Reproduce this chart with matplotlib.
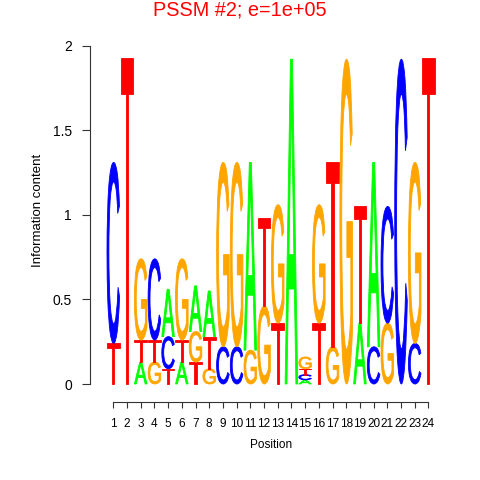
import numpy as np
import matplotlib
matplotlib.use("Agg")
import matplotlib.pyplot as plt
from matplotlib.patches import PathPatch
from matplotlib.textpath import TextPath
from matplotlib.font_manager import FontProperties
from matplotlib.path import Path
from matplotlib.transforms import Affine2D

plt.rcParams['font.family'] = ['Liberation Sans', 'DejaVu Sans']

positions = list(range(1, 25))
tick_labels = [str(p) for p in positions]
# information content per base at each position
A = [0, 0, .13, 0, .28, .13, .27, .27, 0, 0, 1.11, 0, 0, 1.92, .025, 0, 0, 0, .36, 1.09, 0, 0, 0, 0]
C = [1.07, 0, 0, .48, .19, 0, 0, 0, .22, .22, 0, 0, 0, 0, .03, 0, 0, 0, 0, .22, .69, 1.92, .24, 0]
G = [0, 0, .48, .13, 0, .48, .18, .09, 1.09, 1.09, .20, .46, .70, 0, .07, .70, .22, 1.92, 0, 0, .36, 0, 1.07, 0]
T = [.24, 1.93, .13, .13, .09, .13, .13, .19, 0, 0, 0, .52, .36, 0, .035, .36, 1.09, 0, .69, 0, 0, 0, 0, 1.93]
title = "PSSM #2; e=1e+05"

COLORS = {"A": "#00FF00", "C": "#0000FF", "G": "#FFA500", "T": "#FF0000"}
FP = FontProperties(family="Liberation Sans")

GLYPHS = {}
for b in "ACGT":
    tp = TextPath((0, 0), b, size=1, prop=FP)
    ext = tp.get_extents()
    norm = Affine2D().translate(-ext.x0, -ext.y0).scale(1 / ext.width, 1 / ext.height)
    GLYPHS[b] = norm.transform_path(tp)

fig = plt.figure(figsize=(4.8, 4.8), dpi=100)
W = H = 480.0
ax_l, ax_r, ax_t, ax_b = 90, 440, 45.7, 384
ax = fig.add_axes([ax_l / W, 1 - ax_b / H, (ax_r - ax_l) / W, (ax_b - ax_t) / H])
x1px, dx = 113.3, 13.7
ax.set_xlim(1 - (x1px - ax_l) / dx, 1 + (ax_r - x1px) / dx)
ax.set_ylim(0, 2)

width = 0.92
for i, p in enumerate(positions):
    hts = {"A": A[i], "C": C[i], "G": G[i], "T": T[i]}
    order = sorted("ACGT", key=lambda b: hts[b])
    base = 0.0
    for b in order:
        h = hts[b]
        if h <= 0:
            continue
        tr = Affine2D().scale(width, h).translate(p - width / 2, base)
        path = tr.transform_path(GLYPHS[b])
        ax.add_patch(PathPatch(path, facecolor=COLORS[b], edgecolor=COLORS[b],
                               lw=0.6, clip_on=False))
        base += h

for s in ("top", "right"):
    ax.spines[s].set_visible(False)
ax.spines["left"].set_bounds(0, 2)
ax.spines["bottom"].set_position(("outward", 18 * 0.72))
ax.spines["bottom"].set_bounds(1, 24)
for s in ("left", "bottom"):
    ax.spines[s].set_linewidth(0.8)
    ax.spines[s].set_color("#333333")

ax.set_yticks([0, 0.5, 1, 1.5, 2])
ax.set_yticklabels(["0", "0.5", "1", "1.5", "2"])
ax.set_xticks(positions)
ax.set_xticklabels(tick_labels)
ax.tick_params(axis="y", length=6, width=0.8, pad=7, labelsize=10, color="#333333")
ax.tick_params(axis="x", length=4.3, width=0.8, pad=7, labelsize=8.5, color="#333333")

fig.text(38 / W, 1 - 210 / H, "Information content", rotation=90,
         ha="center", va="center", fontsize=9.5)
fig.text(271 / W, 1 - 445 / H, "Position", ha="center", va="center", fontsize=8.5)
fig.text(240 / W, 1 - 9.5 / H, title, ha="center", va="center", fontsize=14.3,
         color="#FF0000")

fig.savefig("out.png", dpi=100)
